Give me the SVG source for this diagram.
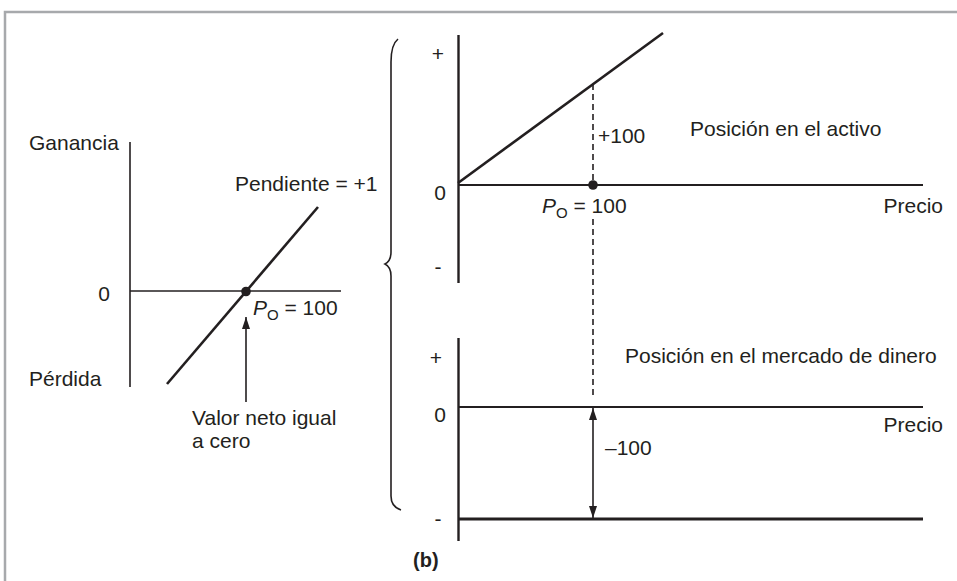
<svg xmlns="http://www.w3.org/2000/svg" width="957" height="581" viewBox="0 0 957 581">
<defs>
<style>
text{font-family:"Liberation Sans",Arial,Helvetica,sans-serif;font-size:21px;fill:#231f20}
.ax{stroke:#231f20;stroke-width:1.6;fill:none}
.axb{stroke:#231f20;stroke-width:2.4;fill:none}
.ln{stroke:#231f20;stroke-width:2.6;fill:none;stroke-linecap:butt}
.dash{stroke:#231f20;stroke-width:1.6;stroke-dasharray:6 4;fill:none}
.it{font-style:italic}
.sub{font-size:15px}
</style>
<marker id="ah" viewBox="0 0 12 8" refX="12" refY="4" markerWidth="12" markerHeight="8" markerUnits="userSpaceOnUse" orient="auto-start-reverse">
<path d="M0,0 L12,4 L0,8 Z" fill="#231f20"/>
</marker>
</defs>
<rect width="957" height="581" fill="#fff"/>
<path d="M5,581 L5,12 L957,12" fill="none" stroke="#a7a9ac" stroke-width="2.5"/>

<g id="left-chart">
<line class="ax" x1="130" y1="142" x2="130" y2="387"/>
<line class="ax" x1="130" y1="291" x2="341" y2="291"/>
<line class="ln" x1="167" y1="384" x2="318" y2="207"/>
<circle cx="246" cy="291.5" r="4.8" fill="#231f20"/>
<text x="29" y="150">Ganancia</text>
<text x="110" y="301" text-anchor="end">0</text>
<text x="29" y="386">Pérdida</text>
<text x="235" y="191">Pendiente = +1</text>
<text x="253" y="315"><tspan class="it">P</tspan><tspan class="sub" dy="5">O</tspan><tspan dy="-5"> = 100</tspan></text>
<text x="192" y="425">Valor neto igual</text>
<text x="192" y="448">a cero</text>
</g>

<g id="brace">
<path d="M398,39 C393,43 391,50 391,62 L391,252 C391,258 389,262 385,264 C389,266 391,270 391,276 L391,496 C391,504 395,508 401,510" fill="none" stroke="#231f20" stroke-width="1.6"/>
</g>

<g id="top-chart">
<line class="axb" x1="458.5" y1="35" x2="458.5" y2="283"/>
<line class="ax" x1="458" y1="185" x2="923" y2="185" style="stroke-width:2"/>
<line class="ln" x1="458" y1="183" x2="663" y2="33"/>
<circle cx="593" cy="185" r="4.8" fill="#231f20"/>
<text x="438" y="60.5" text-anchor="middle">+</text>
<text x="440" y="200" text-anchor="middle">0</text>
<text x="438" y="274" text-anchor="middle">-</text>
<text x="598" y="143">+100</text>
<text x="542" y="213"><tspan class="it">P</tspan><tspan class="sub" dy="5">O</tspan><tspan dy="-5"> = 100</tspan></text>
<text x="690" y="136">Posición en el activo</text>
<text x="943" y="213" text-anchor="end">Precio</text>
</g>

<g id="bottom-chart">
<line class="axb" x1="458.5" y1="338" x2="458.5" y2="541"/>
<line class="ax" x1="458" y1="407" x2="923" y2="407" style="stroke-width:2"/>
<line class="ax" x1="458" y1="519" x2="923" y2="519" style="stroke-width:3"/>
<text x="436" y="364.5" text-anchor="middle">+</text>
<text x="440" y="422" text-anchor="middle">0</text>
<text x="438" y="526" text-anchor="middle">-</text>
<text x="625" y="363">Posición en el mercado de dinero</text>
<text x="943" y="432" text-anchor="end">Precio</text>
<text x="605" y="455">–100</text>
<text x="413" y="567" style="font-weight:bold;font-size:20px">(b)</text>
</g>

<g id="connectors">
<line class="dash" x1="593" y1="84" x2="593" y2="185"/>
<line class="dash" x1="593" y1="219" x2="593" y2="399"/>
<line class="ax" x1="246" y1="402" x2="246" y2="317" marker-end="url(#ah)"/>
<line class="ax" x1="593" y1="408" x2="593" y2="518" marker-start="url(#ah)" marker-end="url(#ah)"/>
</g>
</svg>
